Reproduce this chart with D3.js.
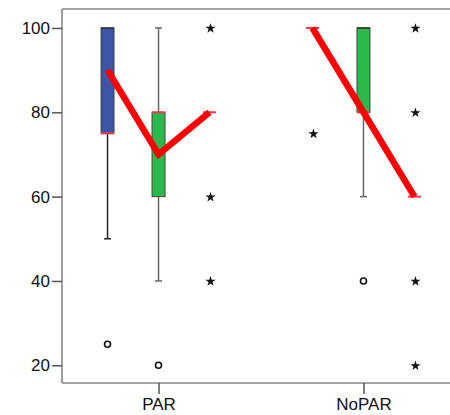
<!DOCTYPE html>
<html>
<head>
<meta charset="utf-8">
<script src="https://cdn.jsdelivr.net/npm/d3@7"></script>
<style>
  html, body { margin: 0; padding: 0; background: #fff; }
  svg { display: block; font-family: "Liberation Sans", Arial, sans-serif; }
</style>
</head>
<body>
<svg id="chart" width="450" height="415"></svg>
<script>
// ---- data ----
const groups = ["PAR", "NoPAR"];
const series = ["A", "B", "C"];
const seriesColors = ["#3d55a7", "#2db84b", "#2db84b"];
const yTicks = [20, 40, 60, 80, 100];

// box statistics per group (rows) and series (columns)
const q1Values     = [[75, 60, 80], [100, 80, 60]];
const medianValues = [[75, 80, 80], [100, 80, 60]];
const q3Values     = [[100, 80, 80], [100, 100, 60]];
const lowWhisker   = [[50, 40, 80], [100, 60, 60]];
const highWhisker  = [[100, 100, 80], [100, 100, 60]];
const outlierValues = [[[25], [20], []], [[], [40], []]];
const extremeValues = [[[], [], [100, 60, 40]], [[75], [], [100, 80, 40, 20]]];
const meanValues   = [[90, 70, 80], [100, 80, 60]];

// ---- layout ----
(function () {
const svg = d3.select("#chart");
const mLeft = 62, mTop = 9, mBottom = 383, mRight = 460;

const y = d3.scaleLinear().domain([15.8, 104.5]).range([mBottom, mTop]);
const x = d3.scalePoint().domain(groups).range([mLeft, mRight]).padding(0.471);
const xs = d3.scalePoint().domain(series).range([-51, 51]);
const boxW = 13;

// frame
const frame = svg.append("g").attr("stroke", "#888").attr("stroke-width", 1.6).attr("fill", "none");
frame.append("line").attr("x1", mLeft).attr("x2", mLeft).attr("y1", mTop).attr("y2", mBottom);
frame.append("line").attr("x1", mLeft).attr("x2", mRight).attr("y1", mTop).attr("y2", mTop);
frame.append("line").attr("x1", mLeft).attr("x2", mRight).attr("y1", mBottom).attr("y2", mBottom);

// y axis
const yAxis = svg.append("g")
  .attr("transform", `translate(${mLeft},0)`)
  .call(d3.axisLeft(y).tickValues(yTicks).tickSize(10).tickPadding(2).tickSizeOuter(0));
yAxis.select(".domain").remove();
yAxis.selectAll(".tick line").attr("stroke", "#555").attr("stroke-width", 1.5);
yAxis.selectAll(".tick text").attr("font-size", 17).attr("fill", "#111")
  .attr("font-family", "'Liberation Sans', Arial, sans-serif");

// x axis
const xAxis = svg.append("g")
  .attr("transform", `translate(0,${mBottom})`)
  .call(d3.axisBottom(x).tickSize(11).tickPadding(4).tickSizeOuter(0));
xAxis.select(".domain").remove();
xAxis.selectAll(".tick line").attr("stroke", "#555").attr("stroke-width", 1.5);
xAxis.selectAll(".tick text").attr("font-size", 17).attr("fill", "#111")
  .attr("font-family", "'Liberation Sans', Arial, sans-serif");

// boxes
const records = [];
groups.forEach((g, gi) => series.forEach((s, si) => {
  records.push({
    g, s, si,
    cx: x(g) + xs(s),
    q1: q1Values[gi][si], med: medianValues[gi][si], q3: q3Values[gi][si],
    lo: lowWhisker[gi][si], hi: highWhisker[gi][si],
    out: outlierValues[gi][si], ext: extremeValues[gi][si], mean: meanValues[gi][si]
  });
}));

const boxG = svg.append("g");
records.forEach(r => {
  const wc = r.si === 0 ? "#222" : "#666";
  if (r.hi > r.q3) {
    boxG.append("line").attr("x1", r.cx).attr("x2", r.cx).attr("y1", y(r.q3)).attr("y2", y(r.hi))
      .attr("stroke", wc).attr("stroke-width", 1.5);
    boxG.append("line").attr("x1", r.cx - 3.5).attr("x2", r.cx + 3.5).attr("y1", y(r.hi)).attr("y2", y(r.hi))
      .attr("stroke", wc).attr("stroke-width", 1.5);
  }
  if (r.lo < r.q1) {
    boxG.append("line").attr("x1", r.cx).attr("x2", r.cx).attr("y1", y(r.q1)).attr("y2", y(r.lo))
      .attr("stroke", wc).attr("stroke-width", 1.5);
    boxG.append("line").attr("x1", r.cx - 3.5).attr("x2", r.cx + 3.5).attr("y1", y(r.lo)).attr("y2", y(r.lo))
      .attr("stroke", wc).attr("stroke-width", 1.5);
  }
  if (r.q3 > r.q1) {
    boxG.append("rect").attr("x", r.cx - boxW / 2).attr("y", y(r.q3))
      .attr("width", boxW).attr("height", y(r.q1) - y(r.q3))
      .attr("fill", seriesColors[r.si]).attr("stroke", "#444").attr("stroke-width", 1);
    if (r.hi === r.q3) {
      boxG.append("line").attr("x1", r.cx - boxW / 2).attr("x2", r.cx + boxW / 2)
        .attr("y1", y(r.q3)).attr("y2", y(r.q3)).attr("stroke", "#333").attr("stroke-width", 1.5);
    }
  }
  boxG.append("line").attr("x1", r.cx - boxW / 2).attr("x2", r.cx + boxW / 2)
    .attr("y1", y(r.med)).attr("y2", y(r.med))
    .attr("stroke", "#ee3b4b").attr("stroke-width", 2);
  r.out.forEach(v => {
    boxG.append("circle").attr("cx", r.cx).attr("cy", y(v)).attr("r", 3)
      .attr("fill", "#fff").attr("stroke", "#111").attr("stroke-width", 1.6);
  });
  r.ext.forEach(v => {
    boxG.append("path").attr("d", d3.symbol().type(d3.symbolStar).size(32)())
      .attr("transform", `translate(${r.cx + 1},${y(v) + 0.5})`)
      .attr("fill", "#111");
  });
});

// mean lines
const line = d3.line().x(d => d.cx).y(d => y(d.mean));
groups.forEach(g => {
  svg.append("path").datum(records.filter(r => r.g === g))
    .attr("d", line).attr("fill", "none")
    .attr("stroke", "#ff0000").attr("stroke-width", 6.5)
    .attr("stroke-linejoin", "miter").attr("stroke-linecap", "butt");
});
})();
</script>
</body>
</html>
